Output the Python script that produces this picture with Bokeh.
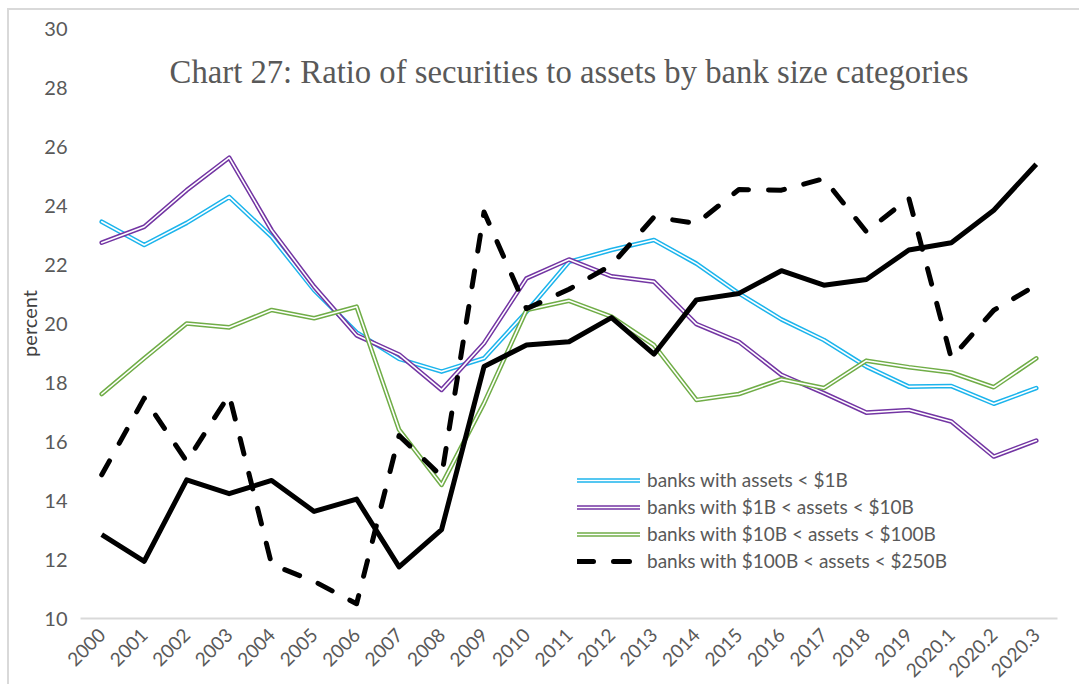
import math
from bokeh.plotting import figure
from bokeh.models import Range1d, FactorRange, FixedTicker, Label, Legend, LegendItem
from bokeh.embed import file_html
from bokeh.resources import INLINE

categories = ["2000", "2001", "2002", "2003", "2004", "2005", "2006", "2007", "2008",
              "2009", "2010", "2011", "2012", "2013", "2014", "2015", "2016", "2017",
              "2018", "2019", "2020.1", "2020.2", "2020.3"]

under_1b = [23.45, 22.66, 23.41, 24.29, 22.94, 21.13, 19.70, 18.80, 18.37, 18.82, 20.40, 22.09,
            22.49, 22.83, 22.03, 21.02, 20.14, 19.44, 18.54, 17.86, 17.88, 17.28, 17.81]
b1_to_10b = [22.74, 23.28, 24.52, 25.62, 23.16, 21.25, 19.60, 18.95, 17.75, 19.33, 21.53, 22.17,
             21.60, 21.42, 19.98, 19.38, 18.26, 17.64, 16.98, 17.07, 16.68, 15.49, 16.03]
b10_to_100b = [17.61, 18.82, 20.00, 19.87, 20.46, 20.18, 20.57, 16.40, 14.53, 17.30, 20.46, 20.77,
               20.23, 19.27, 17.41, 17.61, 18.11, 17.81, 18.74, 18.52, 18.34, 17.84, 18.82]
largest_solid = [12.84, 11.94, 14.70, 14.23, 14.68, 13.63, 14.05, 11.75, 13.01, 18.54, 19.27, 19.38,
                 20.20, 18.96, 20.80, 21.02, 21.79, 21.30, 21.49, 22.49, 22.74, 23.84, 25.40]
b100_to_250b = [14.87, 17.47, 15.32, 17.58, 11.83, 11.26, 10.50, 16.20, 14.82, 23.78, 20.50, 21.16,
                21.98, 23.61, 23.39, 24.54, 24.52, 24.91, 23.11, 24.25, 18.82, 20.45, 21.30]

series_names = ["banks with assets < $1B",
                "banks with $1B < assets < $10B",
                "banks with $10B < assets < $100B",
                "banks with $100B < assets < $250B"]
y_ticks = [10, 12, 14, 16, 18, 20, 22, 24, 26, 28, 30]
y_title = "percent"
title_text = "Chart 27: Ratio of securities to assets by bank size categories"

GRAY = "#595959"

p = figure(width=1072, height=676, output_backend="svg", toolbar_location=None,
           x_range=FactorRange(*categories), y_range=Range1d(10, 30),
           min_border_left=71, min_border_right=24, min_border_top=18, min_border_bottom=67,
           styles={"margin-left": "9px", "margin-top": "10px",
                   "box-shadow": "-2px -2px 0 0 #d9d9d9"})
p.border_fill_color = "white"
p.background_fill_color = "white"
p.outline_line_color = None
p.xgrid.visible = False
p.ygrid.visible = False

# x axis
xa = p.xaxis[0]
xa.axis_line_color = "#d9d9d9"
xa.axis_line_width = 2
xa.major_tick_line_color = None
xa.minor_tick_line_color = None
xa.major_label_orientation = math.pi / 4
xa.major_label_text_font = "Lato"
xa.major_label_text_font_size = "19px"
xa.major_label_text_color = GRAY
xa.major_label_standoff = 7

# y axis
ya = p.yaxis[0]
ya.ticker = FixedTicker(ticks=y_ticks)
ya.axis_line_color = None
ya.major_tick_line_color = None
ya.minor_tick_line_color = None
ya.major_label_text_font = "Lato"
ya.major_label_text_font_size = "20px"
ya.major_label_text_color = GRAY
ya.major_label_standoff = 7
ya.axis_label = y_title
ya.axis_label_text_font = "Lato"
ya.axis_label_text_font_size = "20px"
ya.axis_label_text_font_style = "normal"
ya.axis_label_text_color = "#404040"
ya.axis_label_standoff = 0

items = []
for vals, col, name in [(under_1b, "#1CB4EC", series_names[0]),
                        (b1_to_10b, "#7335A3", series_names[1]),
                        (b10_to_100b, "#70AD47", series_names[2])]:
    r1 = p.line(categories, vals, line_color=col, line_width=4.6, line_join="round", line_cap="round")
    r2 = p.line(categories, vals, line_color="white", line_width=1.6, line_join="round", line_cap="round")
    items.append(LegendItem(label=name, renderers=[r1, r2]))

p.line(categories, largest_solid, line_color="black", line_width=5, line_join="round")
rd = p.line(categories, b100_to_250b, line_color="black", line_width=5, line_dash="16 20",
            line_cap="round", line_join="round")
items.append(LegendItem(label=series_names[3], renderers=[rd]))

legend = Legend(items=items, location=(497, 46), padding=0, margin=0, spacing=4,
                glyph_width=63, glyph_height=20, label_height=20, label_standoff=7,
                border_line_color=None, background_fill_alpha=0,
                label_text_font="Lato", label_text_font_size="19px", label_text_color=GRAY)
p.add_layout(legend, "center")

# synthetic coordinate of the middle category ("2011") on the factor range
mid_x = len(categories) / 2
title = Label(x=mid_x, y=28.54, text=title_text, text_font="Liberation Serif",
              text_font_size="32.7px", text_color=GRAY, text_align="center",
              text_baseline="alphabetic")
p.add_layout(title)

open("out.html", "w").write(file_html(p, INLINE))
